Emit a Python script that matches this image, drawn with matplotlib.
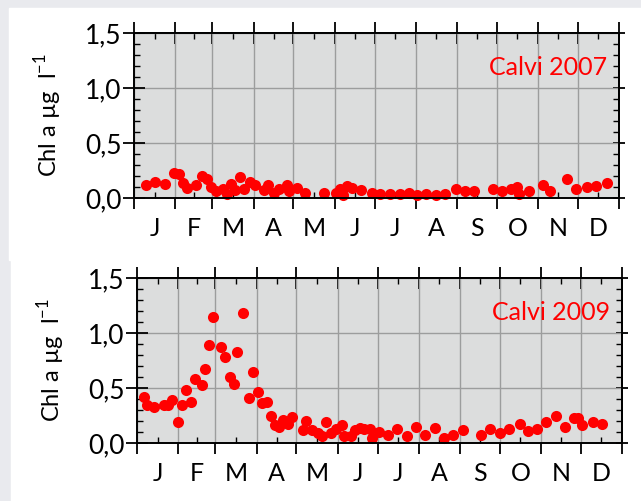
import matplotlib
matplotlib.use("Agg")
import matplotlib.pyplot as plt
import numpy as np
from matplotlib.patches import Rectangle

plt.rcParams['font.family'] = ['Lato', 'DejaVu Sans']

# day of year (0 = 1 Jan) and chlorophyll a (ug/l)
day_2007 = [9, 16, 23, 30, 34, 37, 40, 47, 51, 55, 58, 62, 67, 70, 73, 76, 80, 83, 87,
            91, 98, 101, 105, 109, 115, 117, 123, 129, 143, 152, 155, 157, 160, 164,
            171, 179, 185, 193, 200, 207, 213, 220, 227, 234, 242, 249, 256, 270, 277,
            284, 288, 290, 297, 308, 313, 326, 333, 341, 348, 356]
chl_2007 = [0.12, 0.15, 0.13, 0.23, 0.22, 0.14, 0.09, 0.12, 0.20, 0.17, 0.10, 0.06, 0.08,
            0.04, 0.13, 0.07, 0.19, 0.08, 0.15, 0.12, 0.07, 0.12, 0.05, 0.08, 0.12, 0.06,
            0.09, 0.05, 0.05, 0.05, 0.08, 0.03, 0.11, 0.09, 0.07, 0.05, 0.04, 0.04, 0.04,
            0.05, 0.03, 0.04, 0.03, 0.04, 0.08, 0.06, 0.06, 0.08, 0.06, 0.08, 0.10, 0.04,
            0.06, 0.12, 0.06, 0.17, 0.08, 0.10, 0.11, 0.14]

day_2009 = [5, 7.5, 13, 20, 23, 26, 31, 34, 37, 41, 44, 49, 51, 54.5, 57, 63, 66, 70, 73,
            75, 80, 84, 87, 91, 94, 98, 101, 104, 107, 110, 114, 117, 125, 127, 132, 136,
            139, 142, 146, 150, 154, 156, 161, 164, 168, 171, 175, 177, 182, 189, 196,
            203, 210, 217, 224, 231, 238, 245, 259, 266, 273, 280, 288, 294, 301, 308,
            315, 322, 329, 332, 335, 343, 350]
chl_2009 = [0.42, 0.35, 0.33, 0.35, 0.35, 0.39, 0.19, 0.35, 0.48, 0.37, 0.58, 0.53, 0.67,
            0.89, 1.15, 0.87, 0.78, 0.60, 0.54, 0.83, 1.18, 0.41, 0.65, 0.46, 0.36, 0.37,
            0.25, 0.16, 0.15, 0.21, 0.17, 0.24, 0.12, 0.20, 0.12, 0.09, 0.06, 0.19, 0.09,
            0.13, 0.16, 0.06, 0.06, 0.12, 0.14, 0.13, 0.13, 0.05, 0.10, 0.07, 0.13, 0.06,
            0.15, 0.07, 0.14, 0.05, 0.07, 0.12, 0.07, 0.13, 0.09, 0.13, 0.17, 0.11, 0.13,
            0.19, 0.25, 0.15, 0.23, 0.23, 0.16, 0.19, 0.17]

month_start = [0, 31, 59, 90, 120, 151, 181, 212, 243, 273, 304, 334, 365]
month_labels = ['J', 'F', 'M', 'A', 'M', 'J', 'J', 'A', 'S', 'O', 'N', 'D']
y_ticks = [0.0, 0.5, 1.0, 1.5]
y_ticklabels = ['0,0', '0,5', '1,0', '1,5']

fig = plt.figure(figsize=(6.41, 5.01), dpi=100, facecolor='#e9eaee')
# white page areas behind each panel
fig.patches.append(Rectangle((9 / 641, 1 - 260 / 501), 1, 252 / 501,
                             transform=fig.transFigure, color='white', zorder=-1))
fig.patches.append(Rectangle((11 / 641, 0), 1, 1 - 260 / 501,
                             transform=fig.transFigure, color='white', zorder=-1))

ax_top = fig.add_axes([134 / 641, 1 - 198 / 501, 485 / 641, 165 / 501])
ax_bot = fig.add_axes([137 / 641, 1 - 443 / 501, 485 / 641, 165 / 501])

mid_month = [(a + b) / 2 for a, b in zip(month_start[:-1], month_start[1:])]

for ax, days, chl, title in [(ax_top, day_2007, chl_2007, 'Calvi 2007'),
                             (ax_bot, day_2009, chl_2009, 'Calvi 2009')]:
    ax.set_facecolor('#dcdddd')
    ax.plot(days, chl, 'o', color='#ff0000', ms=8, mec='none', clip_on=False, zorder=5)
    ax.set_xlim(0, 365)
    ax.set_ylim(0, 1.5)

    ax.set_xticks(month_start)
    ax.set_xticklabels([])
    ax.set_xticks(mid_month, minor=True)
    ax.set_xticklabels(month_labels, minor=True)
    ax.set_yticks(y_ticks)
    ax.set_yticklabels(y_ticklabels)
    ax.set_yticks(np.arange(0, 1.51, 0.1), minor=True)

    ax.grid(True, which='major', color='#9c9d9d', lw=1.0)
    ax.set_axisbelow(True)
    for sp in ax.spines.values():
        sp.set_linewidth(1.4)
        sp.set_zorder(6)

    ax.tick_params(axis='x', which='major', direction='out', length=8, width=1.3,
                   bottom=True, top=False)
    ax.tick_params(axis='x', which='minor', direction='in', length=4, width=1.0,
                   bottom=True, top=True, labelsize=18, pad=14)
    ax.tick_params(axis='y', which='major', direction='inout', length=16, width=1.3,
                   left=True, right=False, labelsize=19, pad=1)
    ax.tick_params(axis='y', which='minor', direction='in', length=4, width=1.0,
                   left=True, right=True)

    # top ticks (in and out) and right ticks (shorter)
    sec_x = ax.secondary_xaxis('top')
    sec_x.set_xticks(month_start)
    sec_x.tick_params(direction='inout', length=16, width=1.3, labeltop=False)
    sec_x.spines['top'].set_linewidth(1.4)
    sec_y = ax.secondary_yaxis('right')
    sec_y.set_yticks(y_ticks)
    sec_y.tick_params(direction='inout', length=9, width=1.3, labelright=False)
    sec_y.spines['right'].set_linewidth(1.4)

    ax.set_ylabel('Chl a \u00b5g  l$^{\\mathregular{-1}}$', fontsize=17, labelpad=15)
    ax.text(0.975, 0.79, title, transform=ax.transAxes, ha='right', va='center',
            color='#ff0000', fontsize=18)

fig.savefig('out.png', dpi=100, facecolor=fig.get_facecolor())
